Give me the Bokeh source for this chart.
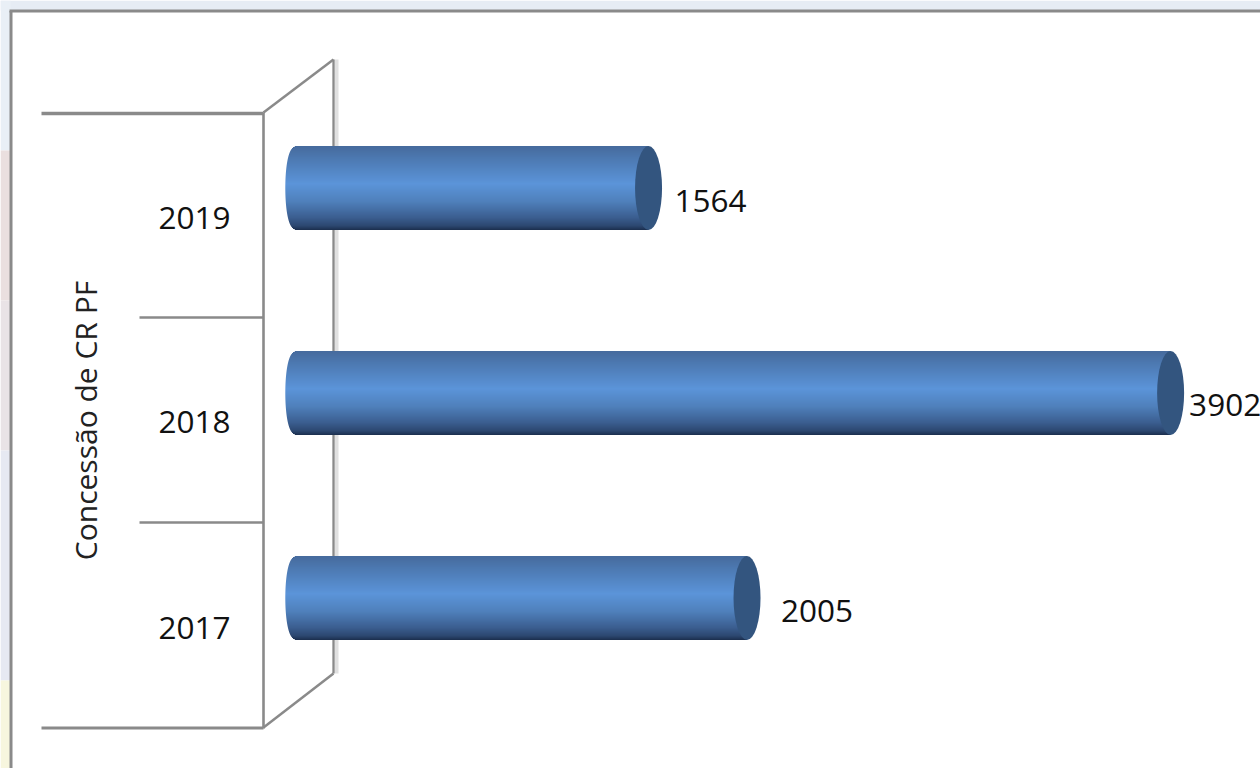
import math
from bokeh.embed import file_html
from bokeh.models import ColumnDataSource, Range1d
from bokeh.plotting import figure
from bokeh.resources import INLINE
from bokeh.core.properties import value

# ---- data ----
years = ["2017", "2018", "2019"]
concessoes = [2005, 3902, 1564]
axis_title = "Concessão de CR PF"

# ---- layout: pixel mapping of the value / category scales ----
W, H = 1260, 768
PX_PER_UNIT = 0.2233
X_ZERO_PX = 298.8
Y_ZERO_PX = 597.5
PX_PER_CAT = 205.0

X = lambda px: (px - X_ZERO_PX) / PX_PER_UNIT
Y = lambda py: (Y_ZERO_PX - py) / PX_PER_CAT

p = figure(width=W, height=H, output_backend="svg", toolbar_location=None,
           x_range=Range1d(X(0), X(W)), y_range=Range1d(Y(H), Y(0)),
           min_border=0, outline_line_color=None, x_axis_location=None, y_axis_location=None,
           background_fill_color="white", border_fill_color="white")
p.grid.visible = False
p.styles = {"position": "absolute", "left": "0px", "top": "0px"}


def rect(x0, y0, x1, y1, color):
    p.quad(left=[X(x0)], right=[X(x1)], top=[Y(y0)], bottom=[Y(y1)],
           fill_color=color, line_color=None)


# page backdrop behind the chart's frame
rect(0, 0, W, 10, "#e6ecf4")
rect(0, 0, 10, 150, "#e9eff6")
rect(0, 150, 10, 300, "#eadfdf")
rect(0, 300, 10, 450, "#e9e3e6")
rect(0, 450, 10, 680, "#e6e9f2")
rect(0, 680, 10, H, "#f7f6de")

GREY = "#8a8a8a"
p.line([X(10.5), X(10.5)], [Y(H), Y(10.5)], line_color=GREY, line_width=3)
p.line([X(9), X(W)], [Y(10.5), Y(10.5)], line_color=GREY, line_width=3)

# back wall + shadow
rect(334, 59, 338, 673, "#e0e0e0")
p.line([X(333), X(333)], [Y(59), Y(673)], line_color=GREY, line_width=2.3)
p.line([X(263), X(333)], [Y(112), Y(59)], line_color=GREY, line_width=2.5)
p.line([X(263), X(333)], [Y(727), Y(673)], line_color=GREY, line_width=2.5)
# front wall and category separators
p.line([X(263), X(263)], [Y(112), Y(728)], line_color=GREY, line_width=2.6)
for py, x0, lw in [(113, 41, 3.5), (317, 139, 2.5), (522, 139, 2.5), (727.5, 41, 3)]:
    p.line([X(x0), X(263)], [Y(py), Y(py)], line_color=GREY, line_width=lw)

# ---- cylinders, drawn from the data through the scales ----
STOPS = [(0.0, (0x46, 0x6a, 0x9c)), (0.14, (0x4c, 0x78, 0xb0)), (0.45, (0x5b, 0x94, 0xd9)),
         (0.66, (0x4f, 0x80, 0xbb)), (0.85, (0x3b, 0x5e, 0x90)), (0.95, (0x2c, 0x47, 0x70)),
         (1.0, (0x1b, 0x2e, 0x4d))]


def shade(t):
    for (a, ca), (b, cb) in zip(STOPS, STOPS[1:]):
        if t <= b:
            f = (t - a) / (b - a)
            return "#%02x%02x%02x" % tuple(round(u + (v - u) * f) for u, v in zip(ca, cb))
    return "#1b2e4d"


BAR_PX = 84
BASE_A = 14 / PX_PER_UNIT
CAP_A = 13.5 / PX_PER_UNIT
lefts, rights, tops, bottoms, colors = [], [], [], [], []
for i, v in enumerate(concessoes):
    for k in range(BAR_PX):
        t = (k + 0.5) / BAR_PX
        dx = BASE_A * math.sqrt(max(0.0, 1 - (2 * t - 1) ** 2)) ** 0.6
        top_val = i + (0.5 - k / BAR_PX) * BAR_PX / PX_PER_CAT
        lefts.append(-dx)
        rights.append(v)
        tops.append(top_val)
        bottoms.append(top_val - 1.02 / PX_PER_CAT)
        colors.append(shade(t))
p.quad(left="l", right="r", top="t", bottom="b", fill_color="c", line_color=None,
       source=ColumnDataSource(dict(l=lefts, r=rights, t=tops, b=bottoms, c=colors)))
p.ellipse(x=concessoes, y=list(range(len(years))), width=[2 * CAP_A] * 3,
          height=[BAR_PX / PX_PER_CAT] * 3, fill_color="#33557f", line_color=None)

# ---- texts ----
FONT = value("Open Sans")
label_dx = [34, 18.5, 26]
label_dy = [13, 12, 12.5]
p.text(x=concessoes, y=list(range(3)), text=[str(v) for v in concessoes],
       x_offset=label_dx, y_offset=label_dy, text_font=FONT, text_font_size="31.5px",
       text_color="#111111", text_align="left", text_baseline="middle")
p.text(x=[X(194)] * 3, y=list(range(3)), text=years, y_offset=[29.5, 29, 29.5],
       text_font=FONT, text_font_size="31.5px", text_color="#111111",
       text_align="center", text_baseline="middle")
p.text(x=[X(85)], y=[Y(420)], text=[axis_title], angle=[math.pi / 2], text_font=FONT,
       text_font_size="30px", text_color="#222222", text_align="center", text_baseline="middle")

open("out.html", "w").write(file_html(p, INLINE))
